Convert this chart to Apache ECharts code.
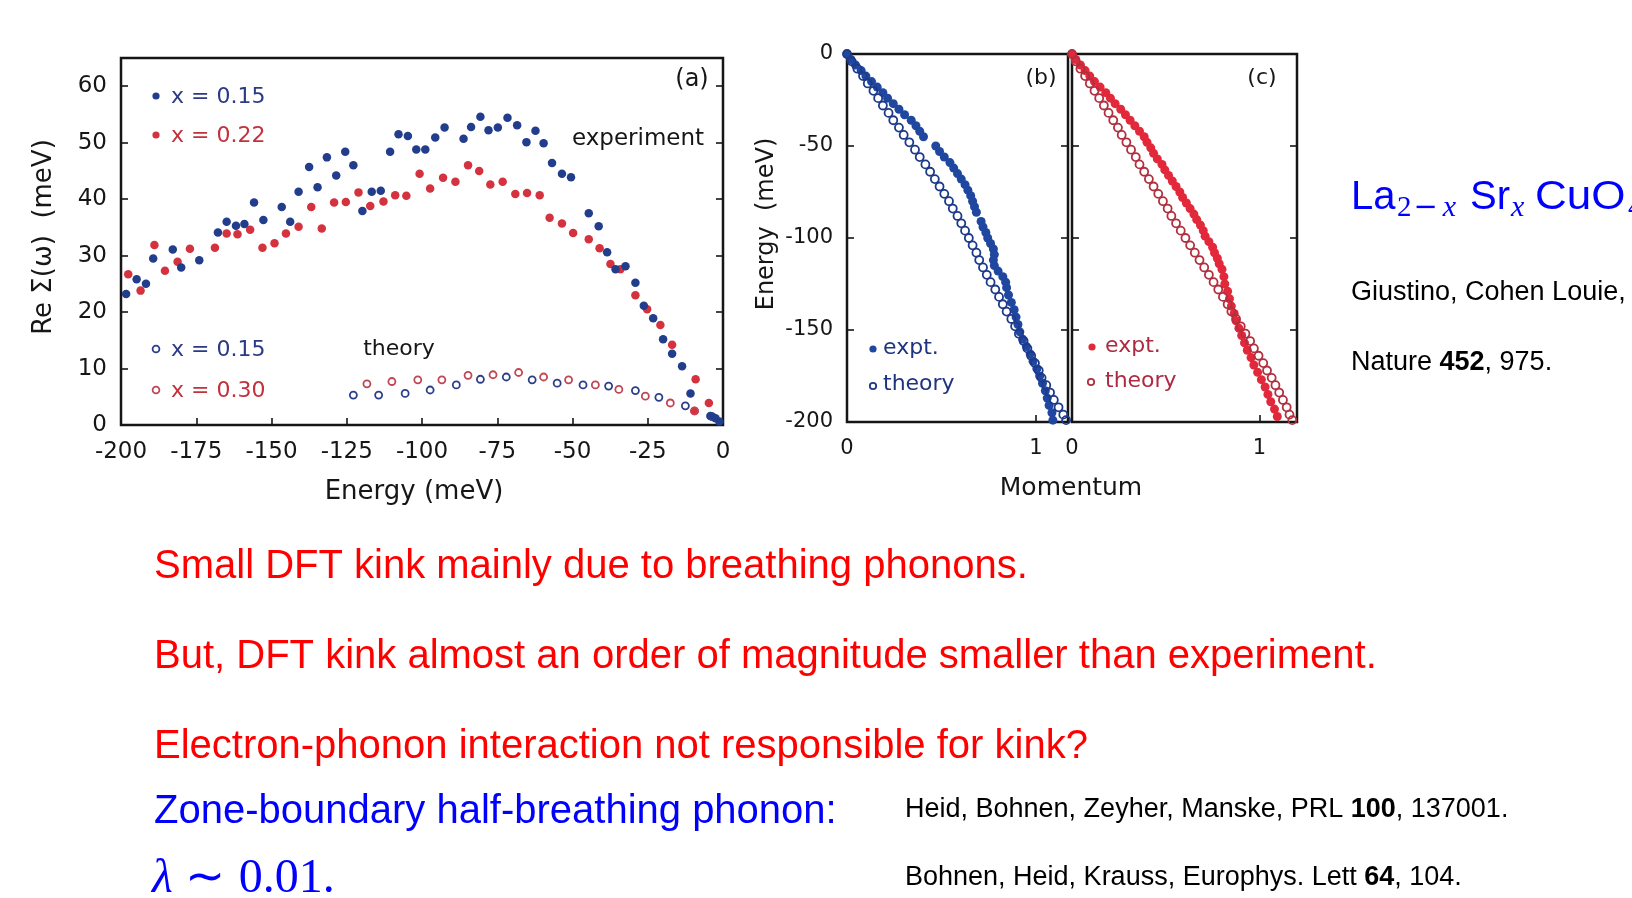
<!DOCTYPE html>
<html>
<head>
<meta charset="utf-8">
<title>Electron-phonon kink in La2-xSrxCuO4</title>
<script src="https://cdn.jsdelivr.net/npm/echarts@6/dist/echarts.min.js"></script>
<style>
  html, body { margin: 0; padding: 0; background: #ffffff; }
  #chart { width: 1632px; height: 898px; }
</style>
</head>
<body>
<div id="chart"></div>
<script>
// ---- Panel (a): Re Sigma(omega) vs energy, [energy meV, Re Sigma meV] ----
const expt015 = [
  [-198.3, 23.2], [-194.8, 25.8], [-191.7, 25.0], [-189.3, 29.5], [-182.8, 31.1],
  [-180.0, 27.9], [-174.0, 29.2], [-167.8, 34.1], [-164.9, 36.0], [-161.8, 35.3],
  [-159.0, 35.6], [-155.8, 39.4], [-152.7, 36.3], [-146.6, 38.6], [-143.8, 36.0],
  [-141.0, 41.3], [-137.5, 45.7], [-134.7, 42.1], [-131.6, 47.4], [-128.5, 44.2],
  [-125.5, 48.4], [-122.8, 46.0], [-119.8, 37.9], [-116.7, 41.3], [-113.7, 41.5],
  [-110.6, 48.4], [-107.8, 51.5], [-104.7, 51.2], [-101.9, 48.8], [-98.9, 48.8],
  [-95.6, 50.9], [-92.5, 52.7], [-86.2, 50.7], [-83.7, 52.8], [-80.6, 54.6],
  [-77.9, 52.2], [-74.8, 52.7], [-71.6, 54.4], [-68.4, 53.1], [-65.3, 50.1],
  [-62.3, 52.1], [-59.6, 49.9], [-56.8, 46.4], [-53.5, 44.5], [-50.5, 43.9],
  [-44.6, 37.5], [-41.3, 35.2], [-38.5, 30.6], [-35.7, 27.6], [-32.4, 28.1],
  [-29.1, 25.2], [-26.3, 21.1], [-23.2, 18.9], [-19.9, 15.2], [-16.9, 12.6],
  [-13.6, 10.4], [-10.8, 5.6], [-4.2, 1.6], [-2.5, 1.2], [-1.2, 0.6]
];
const expt022 = [
  [-197.6, 26.7], [-193.5, 23.8], [-188.9, 31.9], [-185.4, 27.3], [-181.2, 28.9],
  [-177.1, 31.2], [-168.8, 31.4], [-164.9, 33.9], [-161.3, 33.8], [-157.1, 34.6],
  [-153.0, 31.4], [-149.0, 32.2], [-145.2, 33.9], [-141.0, 35.1], [-136.8, 38.6],
  [-133.3, 34.8], [-129.2, 39.4], [-125.3, 39.5], [-121.1, 41.2], [-117.2, 38.8],
  [-112.8, 39.6], [-108.9, 40.7], [-105.2, 40.6], [-100.8, 44.5], [-97.3, 41.9],
  [-93.0, 43.8], [-88.9, 43.1], [-84.7, 46.0], [-81.0, 45.0], [-77.3, 42.6],
  [-73.2, 43.1], [-69.0, 40.9], [-65.1, 41.1], [-60.9, 40.7], [-57.6, 36.7],
  [-53.5, 35.7], [-49.8, 34.0], [-44.6, 32.9], [-41.0, 31.3], [-37.4, 28.5],
  [-34.1, 27.6], [-29.1, 23.0], [-25.2, 20.5], [-20.8, 17.7], [-16.9, 14.2],
  [-9.1, 8.1], [-9.4, 2.5], [-4.7, 3.9]
];
const theory015 = [
  [-122.8, 5.3], [-114.4, 5.3], [-105.6, 5.6], [-97.3, 6.2], [-88.6, 7.1],
  [-80.6, 8.1], [-72.0, 8.5], [-63.4, 8.0], [-55.1, 7.4], [-46.5, 7.1],
  [-38.0, 6.9], [-29.1, 6.1], [-21.3, 4.9], [-12.5, 3.4], [-3.6, 1.5]
];
const theory030 = [
  [-118.3, 7.3], [-110.0, 7.7], [-101.4, 8.0], [-93.4, 8.0], [-84.7, 8.8],
  [-76.4, 8.9], [-67.9, 9.3], [-59.6, 8.5], [-51.3, 8.0], [-42.4, 7.1],
  [-34.6, 6.3], [-25.8, 5.1], [-17.5, 3.9], [-9.5, 2.5]
];

// ---- Panels (b), (c): dispersions, [momentum, energy meV] ----
const bandExptB = [
  [0.000, 0], [0.020, -3], [0.045, -6], [0.075, -9], [0.100, -12], [0.130, -15],
  [0.160, -18], [0.190, -21], [0.215, -24], [0.245, -27], [0.275, -30], [0.305, -33],
  [0.340, -36], [0.365, -39], [0.385, -42], [0.405, -45],
  [0.470, -50], [0.490, -53], [0.515, -56], [0.545, -59], [0.565, -62], [0.585, -65],
  [0.605, -68], [0.625, -71], [0.640, -74], [0.655, -77], [0.665, -80], [0.675, -83],
  [0.685, -86],
  [0.710, -91], [0.720, -94], [0.735, -97], [0.745, -100], [0.760, -103], [0.775, -106],
  [0.780, -109], [0.775, -112], [0.780, -115], [0.800, -118], [0.825, -121], [0.840, -124],
  [0.845, -127], [0.855, -131], [0.870, -135], [0.885, -139], [0.895, -143], [0.905, -147],
  [0.915, -151], [0.930, -155], [0.950, -159], [0.970, -163], [0.985, -167], [1.005, -171],
  [1.020, -175], [1.035, -179], [1.050, -183], [1.060, -187], [1.070, -191], [1.085, -195],
  [1.090, -199]
];
const bandTheoryB = [
  [0.000, 0], [0.025, -4], [0.055, -8], [0.085, -12], [0.110, -16], [0.140, -20],
  [0.165, -24], [0.190, -28], [0.220, -32], [0.245, -36], [0.275, -40], [0.300, -44],
  [0.330, -48], [0.360, -52], [0.385, -56], [0.415, -60], [0.440, -64], [0.465, -68],
  [0.490, -72], [0.515, -76], [0.540, -80], [0.560, -84], [0.585, -88], [0.605, -92],
  [0.625, -96], [0.645, -100], [0.665, -104], [0.685, -108], [0.700, -112], [0.720, -116],
  [0.740, -120], [0.760, -124], [0.785, -128], [0.805, -132], [0.825, -136], [0.845, -140],
  [0.870, -144], [0.890, -148], [0.910, -152], [0.935, -156], [0.955, -160], [0.975, -164],
  [0.995, -168], [1.015, -172], [1.030, -176], [1.055, -180], [1.075, -184], [1.095, -188],
  [1.120, -192], [1.145, -196], [1.160, -199]
];
const bandExptC = [
  [0.000, 0], [0.020, -3], [0.045, -6], [0.070, -9], [0.095, -12], [0.120, -15],
  [0.150, -18], [0.180, -21], [0.205, -24], [0.230, -27], [0.260, -30], [0.285, -33],
  [0.310, -36], [0.335, -39], [0.360, -42], [0.385, -45], [0.400, -48], [0.420, -51],
  [0.435, -54], [0.455, -57], [0.480, -60], [0.495, -63], [0.515, -66], [0.535, -69],
  [0.555, -72], [0.575, -75], [0.590, -78], [0.610, -81], [0.630, -84], [0.650, -87],
  [0.665, -90], [0.685, -93], [0.700, -96], [0.710, -99], [0.730, -102], [0.750, -105],
  [0.760, -108], [0.775, -111], [0.785, -114], [0.800, -117], [0.810, -121], [0.815, -125],
  [0.830, -129], [0.840, -133], [0.850, -137], [0.865, -141], [0.875, -145], [0.890, -149],
  [0.905, -153], [0.920, -157], [0.935, -161], [0.955, -165], [0.970, -169], [0.990, -173],
  [1.010, -177], [1.030, -181], [1.045, -185], [1.060, -189], [1.080, -193], [1.095, -197]
];
const bandTheoryC = [
  [0.000, 0], [0.020, -4], [0.045, -8], [0.070, -12], [0.095, -16], [0.120, -20],
  [0.145, -24], [0.170, -28], [0.195, -32], [0.220, -36], [0.245, -40], [0.265, -44],
  [0.290, -48], [0.315, -52], [0.340, -56], [0.360, -60], [0.385, -64], [0.410, -68],
  [0.435, -72], [0.460, -76], [0.485, -80], [0.510, -84], [0.530, -88], [0.555, -92],
  [0.580, -96], [0.605, -100], [0.630, -104], [0.655, -108], [0.680, -112], [0.705, -116],
  [0.730, -120], [0.755, -124], [0.780, -128], [0.805, -132], [0.830, -136], [0.850, -140],
  [0.875, -144], [0.900, -148], [0.925, -152], [0.950, -156], [0.970, -160], [0.995, -164],
  [1.020, -168], [1.040, -172], [1.065, -176], [1.085, -180], [1.105, -184], [1.125, -188],
  [1.145, -192], [1.160, -196], [1.175, -199]
];

// ---- Tick values ----
const sigmaTicks = [0, 10, 20, 30, 40, 50, 60];
const energyTicksA = [-200, -175, -150, -125, -100, -75, -50, -25, 0];
const energyTicksB = [-200, -150, -100, -50, 0];
const momentumTicks = [0, 1];

const INK = '#161616';
const FIG_FONT = 'DejaVu Sans';
const SLIDE_FONT = 'Liberation Sans, Arial, sans-serif';

function frameGrid(left, top, width, height) {
  return { left, top, width, height, show: true, borderColor: INK, borderWidth: 2.5,
           backgroundColor: 'transparent', containLabel: false };
}
function tickStyle() {
  return { show: true, inside: true, length: 7, lineStyle: { color: INK, width: 1.6 } };
}
function valueAxis(gridIndex, min, max, interval, extra) {
  return Object.assign({
    type: 'value', gridIndex, min, max, interval,
    axisLine: { show: false, onZero: false },
    axisTick: tickStyle(),
    splitLine: { show: false },
    axisLabel: { show: false }
  }, extra || {});
}
function labelsFor(list, size, margin) {
  return {
    show: true, margin, color: INK, fontFamily: FIG_FONT, fontSize: size,
    formatter: v => (list.indexOf(v) >= 0 ? String(v) : '')
  };
}
function filled(xi, yi, data, color, size) {
  return { type: 'scatter', xAxisIndex: xi, yAxisIndex: yi, data, symbol: 'circle',
           symbolSize: size, silent: true, itemStyle: { color, opacity: 1 } };
}
function open(xi, yi, data, color, size, lw) {
  return { type: 'scatter', xAxisIndex: xi, yAxisIndex: yi, data, symbol: 'circle',
           symbolSize: size, silent: true,
           itemStyle: { color: 'rgba(255,255,255,0)', borderColor: color, borderWidth: lw, opacity: 1 } };
}

// colours of the figure marks
const BLUE_A = '#213d8c', RED_A = '#d4323f';
const BLUE_TH = '#2a3f8a', RED_TH = '#bf4654';
const BLUE_B = '#1f47a0', BLUE_B_OPEN = '#1d3a8a';
const RED_C = '#e2283b', RED_C_OPEN = '#b0303f';

function txt(x, y, text, size, color, opts) {
  return Object.assign({
    type: 'text', x, y, silent: true,
    style: Object.assign({ text, fill: color, fontSize: size, fontFamily: FIG_FONT,
                           align: 'left', verticalAlign: 'middle' }, (opts && opts.style) || {})
  }, (opts && opts.el) || {});
}
function dot(cx, cy, r, color) {
  return { type: 'circle', silent: true, shape: { cx, cy, r }, style: { fill: color } };
}
function ring(cx, cy, r, color) {
  return { type: 'circle', silent: true, shape: { cx, cy, r },
           style: { fill: 'none', stroke: color, lineWidth: 1.8 } };
}
function slideLine(x, y, rich, size) {
  return { type: 'text', x, y, silent: true,
           style: { text: rich.text, rich: rich.styles, fontSize: size, fontFamily: SLIDE_FONT,
                    fill: rich.fill, align: 'left', verticalAlign: 'middle' } };
}
function statement(y, text, color) {
  return { type: 'text', x: 154, y, silent: true,
           style: { text, fill: color, fontSize: 40, fontFamily: SLIDE_FONT, verticalAlign: 'middle' } };
}

const refStyles = {
  n: { fontFamily: SLIDE_FONT, fontSize: 27, fill: '#000' },
  b: { fontFamily: SLIDE_FONT, fontSize: 27, fontWeight: 'bold', fill: '#000' }
};
const FORMULA_BLUE = '#0000ff';

const option = {
  animation: false,
  backgroundColor: '#ffffff',
  grid: [
    frameGrid(121, 58, 602, 367),
    frameGrid(847, 54, 221, 368),
    frameGrid(1072, 54, 225, 368)
  ],
  xAxis: [
    valueAxis(0, -200, 0, 25, { position: 'bottom', axisLabel: labelsFor(energyTicksA, 23, 16) }),
    valueAxis(1, 0, 1.17, 1, { position: 'bottom', axisLabel: labelsFor(momentumTicks, 21, 16) }),
    valueAxis(2, 0, 1.2, 1, { position: 'bottom', axisLabel: labelsFor(momentumTicks, 21, 16) })
  ],
  yAxis: [
    valueAxis(0, 0, 65, 10, { position: 'left', axisLabel: labelsFor(sigmaTicks, 23, 14) }),
    valueAxis(0, 0, 65, 10, { position: 'right' }),
    valueAxis(1, -200, 0, 50, { position: 'left', axisLabel: labelsFor(energyTicksB, 21, 14) }),
    valueAxis(1, -200, 0, 50, { position: 'right' }),
    valueAxis(2, -200, 0, 50, { position: 'left' }),
    valueAxis(2, -200, 0, 50, { position: 'right' })
  ],
  series: [
    filled(0, 0, expt022, RED_A, 8.5),
    filled(0, 0, expt015, BLUE_A, 8.5),
    open(0, 0, theory030, RED_TH, 7, 1.8),
    open(0, 0, theory015, BLUE_TH, 7, 1.8),
    filled(1, 2, bandExptB, BLUE_B, 9),
    open(1, 2, bandTheoryB, BLUE_B_OPEN, 8, 1.8),
    filled(2, 4, bandExptC, RED_C, 9),
    open(2, 4, bandTheoryC, RED_C_OPEN, 8, 1.8)
  ],
  graphic: [
    // axis names
    txt(44, 237, 'Re Σ(ω)  (meV)', 26, INK, { style: { align: 'center' }, el: { rotation: Math.PI / 2 } }),
    txt(414, 492, 'Energy (meV)', 26, INK, { style: { align: 'center' } }),
    txt(767, 224, 'Energy  (meV)', 24, INK, { style: { align: 'center' }, el: { rotation: Math.PI / 2 } }),
    txt(1071, 488, 'Momentum', 25, INK, { style: { align: 'center' } }),
    // panel (a) annotations
    txt(692, 80, '(a)', 24, INK, { style: { align: 'center' } }),
    txt(638, 139, 'experiment', 23, INK, { style: { align: 'center' } }),
    txt(399, 349, 'theory', 22, INK, { style: { align: 'center' } }),
    dot(156, 96, 3.6, BLUE_A), txt(171, 97, 'x = 0.15', 22, '#2b3a86'),
    dot(156, 135, 3.6, RED_A), txt(171, 136, 'x = 0.22', 22, '#c2313c'),
    ring(156, 349, 3.4, BLUE_TH), txt(171, 350, 'x = 0.15', 22, '#2b3a86'),
    ring(156, 390, 3.4, RED_TH), txt(171, 391, 'x = 0.30', 22, '#c2313c'),
    // panels (b), (c) annotations
    txt(1041, 78, '(b)', 22, INK, { style: { align: 'center' } }),
    txt(1262, 78, '(c)', 22, INK, { style: { align: 'center' } }),
    dot(873, 349, 3.6, BLUE_B), txt(883, 348, 'expt.', 22, '#1e3480'),
    ring(873, 386, 3.2, BLUE_B_OPEN), txt(883, 384, 'theory', 22, '#1e3480'),
    dot(1092, 347, 3.6, RED_C), txt(1105, 346, 'expt.', 22, '#ad2a42'),
    ring(1091, 382, 3.2, RED_C_OPEN), txt(1105, 381, 'theory', 22, '#ad2a42'),

    // compound formula La_{2-x}Sr_xCuO_4
    { type: 'text', x: 1351, y: 198, silent: true,
      style: { text: 'La', fill: FORMULA_BLUE, fontSize: 40, fontFamily: SLIDE_FONT, verticalAlign: 'middle' } },
    { type: 'text', x: 1397, y: 208, silent: true,
      style: { text: '{r|2}{m|−}{i|x}', fill: FORMULA_BLUE, verticalAlign: 'middle',
               rich: { r: { fontFamily: 'Liberation Serif', fontSize: 29, fill: FORMULA_BLUE },
                       m: { fontFamily: 'DejaVu Sans', fontSize: 29, fill: FORMULA_BLUE, padding: [0, 5, 0, 2] },
                       i: { fontFamily: 'Liberation Serif', fontStyle: 'italic', fontSize: 30, fill: FORMULA_BLUE } } } },
    { type: 'text', x: 1470, y: 198, silent: true,
      style: { text: 'Sr', fill: FORMULA_BLUE, fontSize: 40, fontFamily: SLIDE_FONT, verticalAlign: 'middle' } },
    { type: 'text', x: 1511, y: 208, silent: true,
      style: { text: 'x', fill: FORMULA_BLUE, fontSize: 30, fontStyle: 'italic', fontFamily: 'Liberation Serif', verticalAlign: 'middle' } },
    { type: 'text', x: 1535, y: 198, silent: true, scaleX: 1.1,
      style: { text: 'CuO', fill: FORMULA_BLUE, fontSize: 40, fontFamily: SLIDE_FONT, verticalAlign: 'middle' } },
    { type: 'text', x: 1628, y: 208, silent: true,
      style: { text: '4', fill: FORMULA_BLUE, fontSize: 29, fontFamily: 'Liberation Serif', verticalAlign: 'middle' } },

    // citations
    slideLine(1351, 292.5, { text: '{n|Giustino, Cohen Louie,}', styles: refStyles, fill: '#000' }, 27),
    slideLine(1351, 363, { text: '{n|Nature }{b|452}{n|, 975.}', styles: refStyles, fill: '#000' }, 27),
    slideLine(905, 809.5, { text: '{n|Heid, Bohnen, Zeyher, Manske, PRL }{b|100}{n|, 137001.}', styles: refStyles, fill: '#000' }, 27),
    slideLine(905, 877.5, { text: '{n|Bohnen, Heid, Krauss, Europhys. Lett }{b|64}{n|, 104.}', styles: refStyles, fill: '#000' }, 27),

    // slide statements
    statement(567, 'Small DFT kink mainly due to breathing phonons.', '#ff0000'),
    statement(657, 'But, DFT kink almost an order of magnitude smaller than experiment.', '#ff0000'),
    statement(747, 'Electron-phonon interaction not responsible for kink?', '#ff0000'),
    statement(812, 'Zone-boundary half-breathing phonon:', '#0000ff'),
    { type: 'text', x: 152, y: 879, silent: true,
      style: { text: '{l|λ}{s|∼}{r|0.01.}', fill: '#0000ff', verticalAlign: 'middle',
               rich: { l: { fontFamily: 'Liberation Serif', fontStyle: 'italic', fontSize: 48, fill: '#0000ff' },
                       s: { fontFamily: 'Liberation Serif', fontSize: 48, fill: '#0000ff', padding: [0, 14, 0, 12] },
                       r: { fontFamily: 'Liberation Serif', fontSize: 48, fill: '#0000ff' } } } }
  ]
};

const chart = echarts.init(document.getElementById('chart'), null, { renderer: 'canvas' });
chart.setOption(option);
</script>
</body>
</html>
